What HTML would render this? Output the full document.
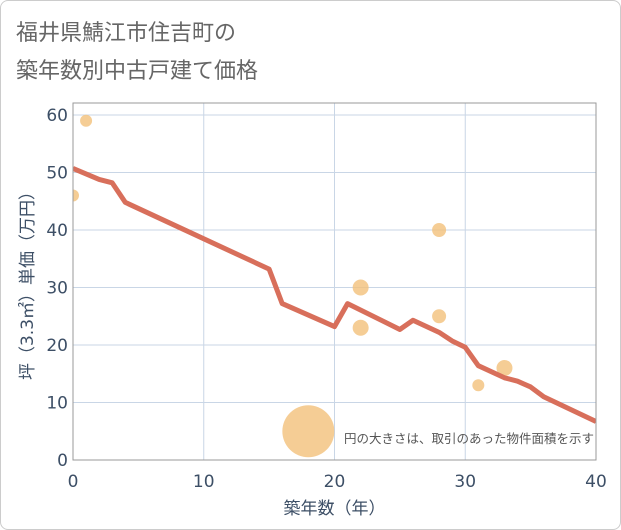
<!DOCTYPE html>
<html><head><meta charset="utf-8"><style>
body{margin:0;background:#fff;font-family:"DejaVu Sans","Noto Sans CJK JP",sans-serif}
#card{position:absolute;left:0;top:0;width:619px;height:528px;border:1px solid #ccc;border-radius:8px;background:#fff}
</style></head><body>
<div id="card"></div>
<svg id="chart" width="621" height="530" style="position:absolute;left:0;top:0">
<defs><clipPath id="plotclip"><rect x="73" y="103" width="523" height="357"/></clipPath></defs>
<text x="16" y="40" font-size="22" fill="#666" font-family="DejaVu Sans,Noto Sans CJK JP,sans-serif">福井県鯖江市住吉町の</text>
<text x="16" y="78" font-size="22" fill="#666" font-family="DejaVu Sans,Noto Sans CJK JP,sans-serif">築年数別中古戸建て価格</text>
<g id="grid"></g><g id="marks" clip-path="url(#plotclip)"></g><g id="axes"></g>
</svg>
<script>
const xTicks=[0,10,20,30,40];
const yTicks=[0,10,20,30,40,50,60];
const lineX=[0,2,3,4,15,16,20,21,25,26,28,29,30,31,33,34,35,36,40];
const lineY=[50.7,48.8,48.2,44.8,33.2,27.2,23.2,27.2,22.7,24.3,22.2,20.7,19.6,16.4,14.3,13.7,12.7,11.0,6.7];
const bubX=[0,1,18,22,22,28,28,31,33];
const bubY=[46,59,5,30,23,40,25,13,16];
const bubR=[6,6,26,8,8,7,7,6,8];
const L=73,R=596,T=103,B=460;
const sx=v=>L+(v-0)/40*(R-L);
const sy=v=>B-v/60*(B-115);
const NS="http://www.w3.org/2000/svg";
function mk(tag,attrs,parent){const e=document.createElementNS(NS,tag);for(const k in attrs)e.setAttribute(k,attrs[k]);parent.appendChild(e);return e;}
const grid=document.getElementById('grid'),marks=document.getElementById('marks'),axes=document.getElementById('axes');
const ff="DejaVu Sans,Noto Sans CJK JP,sans-serif";
xTicks.forEach(v=>{
 const g=mk('line',{x1:sx(v),x2:sx(v),y1:T,y2:B,stroke:'#c9d6e6','stroke-width':1},grid);
 
 
 const t=mk('text',{x:sx(v),y:B+27,'font-size':17,fill:'#3d4f66','text-anchor':'middle','font-family':ff},axes);t.textContent=v;
 
 
});
yTicks.forEach(v=>{
 const g=mk('line',{x1:L,x2:R,y1:sy(v),y2:sy(v),stroke:'#c9d6e6','stroke-width':1},grid);
 
 
 const t=mk('text',{x:L-5,y:sy(v)+6,'font-size':17,fill:'#3d4f66','text-anchor':'end','font-family':ff},axes);t.textContent=v;
 
 
});
const fr=mk('rect',{x:L,y:T,width:R-L,height:B-T,fill:'none',stroke:'#999','stroke-width':1},axes);


bubX.forEach((x,i)=>{
 const c=mk('circle',{cx:sx(x),cy:sy(bubY[i]),r:bubR[i],fill:'#f3c07a','fill-opacity':0.8},marks);
 
 
});
const pl=mk('polyline',{points:lineX.map((x,i)=>sx(x)+','+sy(lineY[i])).join(' '),fill:'none',stroke:'#d86f5b','stroke-width':5,'stroke-linejoin':'round'},marks);


const note=mk('text',{x:594,y:443,'font-size':12.5,fill:'#555','text-anchor':'end','font-family':ff},axes);note.textContent='円の大きさは、取引のあった物件面積を示す';


const xt=mk('text',{x:sx(20),y:514,'font-size':17,fill:'#3d4f66','text-anchor':'middle','font-family':ff},axes);xt.textContent='築年数（年）';


const yt=mk('text',{x:0,y:0,'font-size':17,fill:'#3d4f66','text-anchor':'middle','font-family':ff,transform:'translate(33,'+((T+B)/2)+') rotate(-90)'},axes);yt.textContent='坪（3.3㎡）単価（万円）';


</script>
</body></html>
